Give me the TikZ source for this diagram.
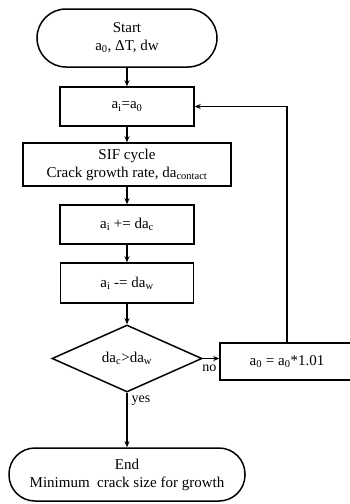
\documentclass[tikz,border=0pt]{standalone}
\usepackage{fontspec}
\setmainfont{Liberation Serif}
\usetikzlibrary{shapes.geometric,arrows.meta}
\begin{document}
\begin{tikzpicture}[x=1pt,y=-1pt,
  every node/.style={font=\fontsize{15}{18}\selectfont, align=center, inner sep=0pt},
  box/.style={draw, line width=1.5pt, rectangle},
  term/.style={draw, line width=1.5pt, rectangle},
  dec/.style={draw, line width=1.5pt, diamond, aspect=2.24},
  conn/.style={line width=1.4pt, -{Stealth[length=6pt,width=5pt]}},
  lbl/.style={font=\fontsize{14}{16}\selectfont}]
\useasboundingbox (0,0) rectangle (350,504);
\clip (0,0) rectangle (350,504);
\node[term, rounded corners=29pt, minimum width=180pt, minimum height=58pt] (start) at (127,38) {Start\\a\textsubscript{0}, ΔT, dw};
\node[box, minimum width=134pt, minimum height=39pt] (b1) at (127,106.5) {a\textsubscript{i}=a\textsubscript{0}};
\node[box, minimum width=208pt, minimum height=43pt] (b2) at (127,164.5) {SIF cycle\\Crack growth rate, da\textsubscript{contact}};
\node[box, minimum width=134pt, minimum height=39pt] (b3) at (127,224.5) {a\textsubscript{i} += da\textsubscript{c}};
\node[box, minimum width=133pt, minimum height=40pt] (b4) at (127,283) {a\textsubscript{i} -= da\textsubscript{w}};
\node[dec, minimum width=150pt, minimum height=67pt] (d) at (127,358.5) {da\textsubscript{c}>da\textsubscript{w}};
\node[box, minimum width=134pt, minimum height=37pt] (b5) at (287,361.5) {a\textsubscript{0} = a\textsubscript{0}*1.01};
\node[term, rounded corners=26pt, minimum width=236pt, minimum height=53pt] (end) at (127,474.5) {End\\Minimum\ \ crack size for growth};
\draw[conn] (start) -- (b1);
\draw[conn] (b1) -- (b2);
\draw[conn] (b2) -- (b3);
\draw[conn] (b3) -- (b4);
\draw[conn] (b4) -- (d);
\draw[conn] (d.east) -- (b5.west |- d.east) node[lbl, pos=0.4, below=6pt] (no) {no};
\draw[conn] (b5.north) |- (b1.east);
\draw[conn] (d.south) -- (end.north) node[lbl, pos=0.15, right=4pt] (yes) {yes};
\end{tikzpicture}
\end{document}
